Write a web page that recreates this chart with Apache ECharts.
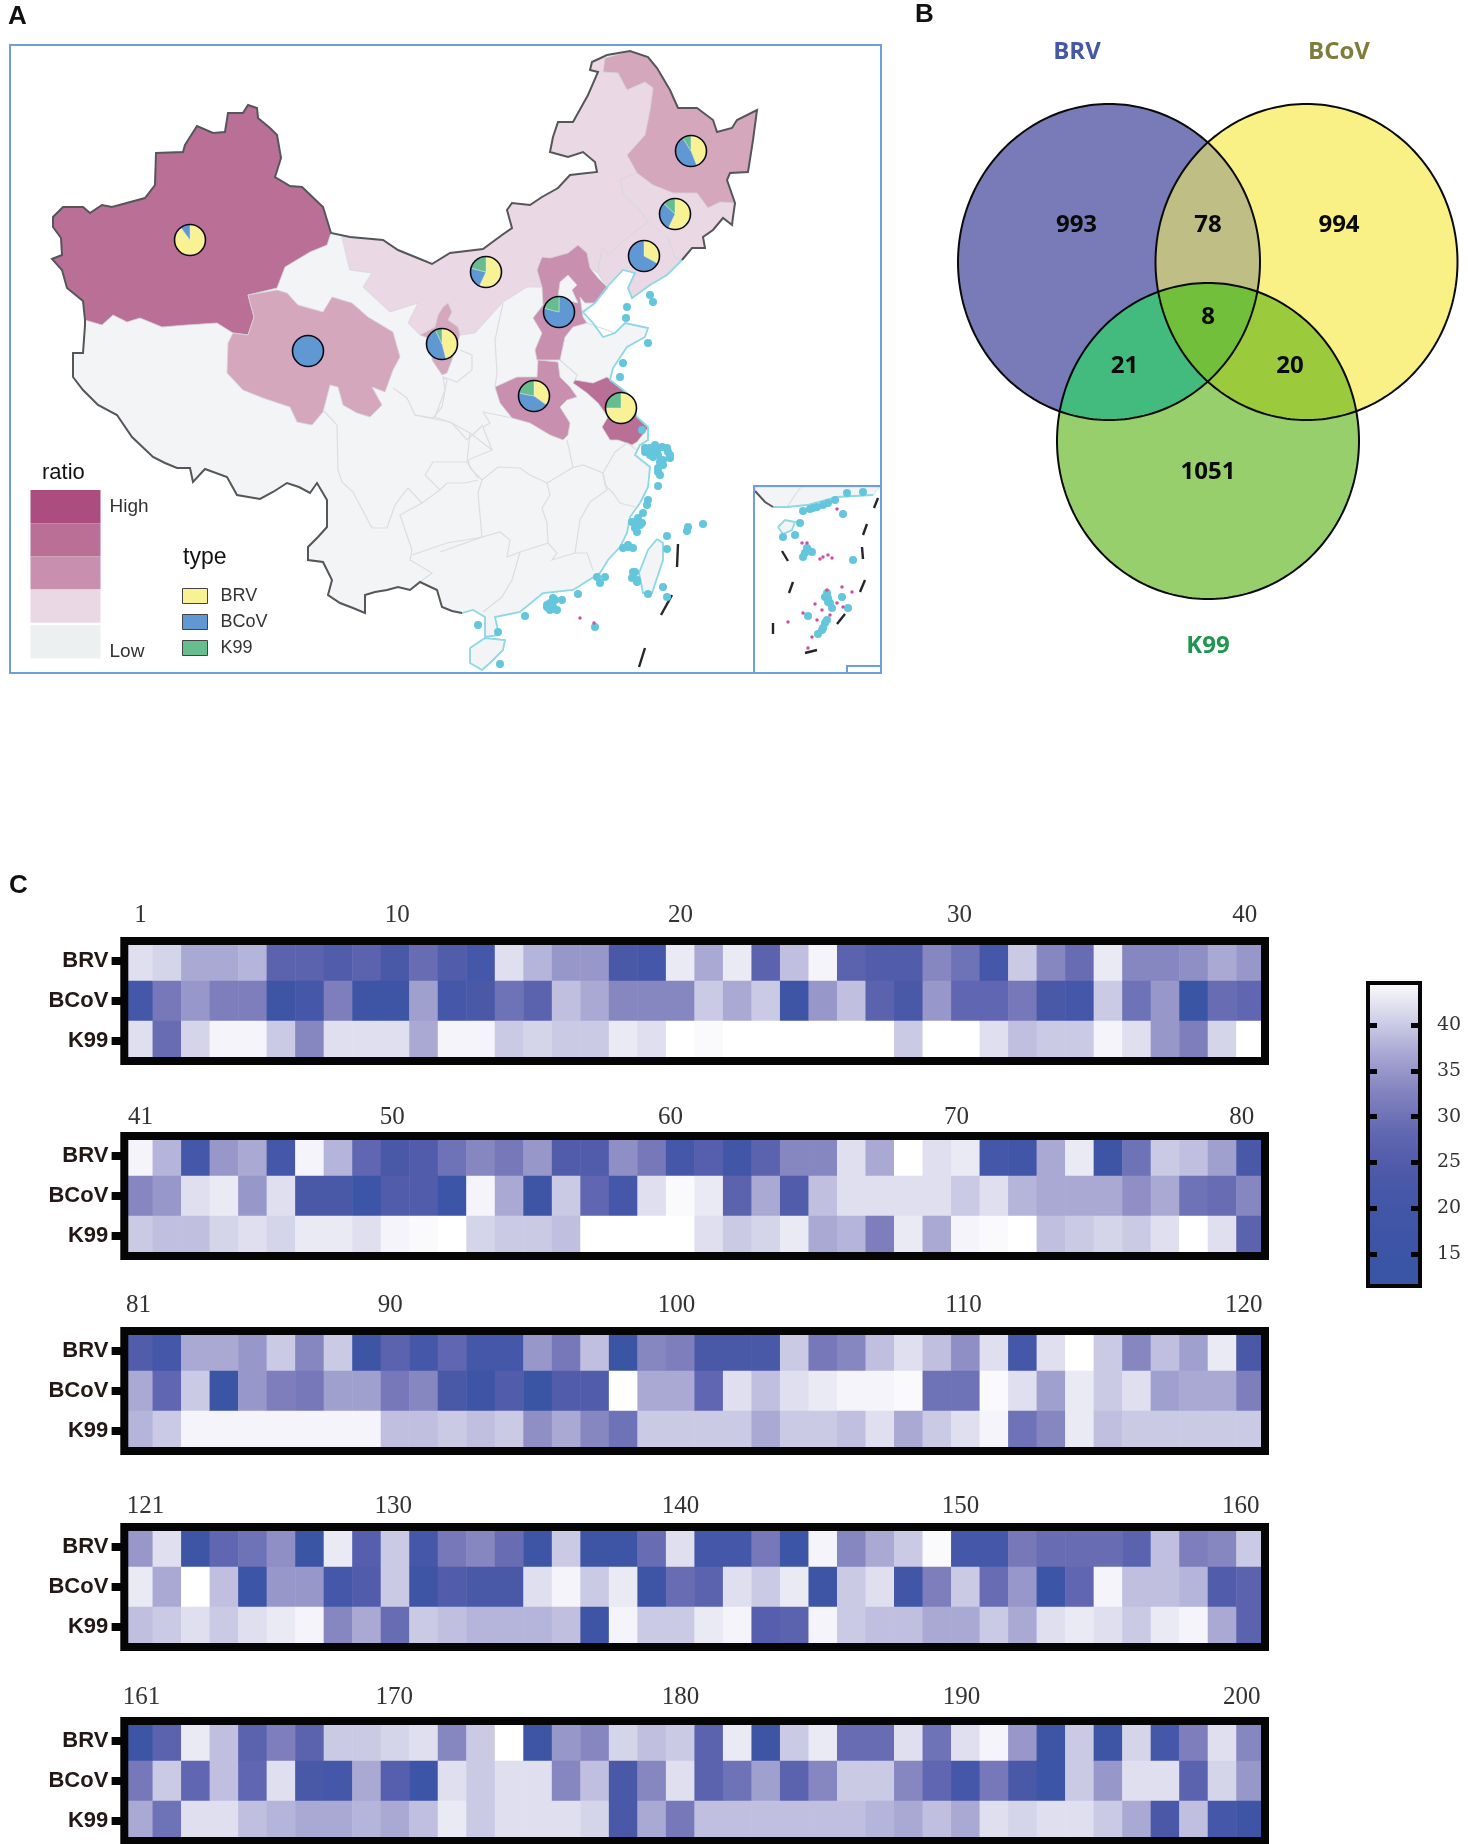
<!DOCTYPE html>
<html>
<head>
<meta charset="utf-8">
<title>BRV BCoV K99</title>
<style>html,body{margin:0;padding:0;background:#fff}#main{width:1468px;height:1844px}</style>
<script src="https://cdn.jsdelivr.net/npm/echarts@6/dist/echarts.min.js"></script>
</head>
<body>
<div id="main"></div>
<script>
// panel C: value of each sample
var brvValues = [
  42,41,37,37,38,27,27,25,27,23,29,25,21,42,38,35,35,23,21,43,37,43,27,39,44,27,25,25,33,30,21,40,33,29,43,33,33,34,37,35,
  44,38,21,35,37,21,44,38,28,23,25,30,33,31,35,25,25,34,31,21,26,19,27,33,33,42,37,45,42,43,21,19,37,43,17,30,40,39,36,23,
  25,21,37,37,35,40,33,40,17,27,21,28,21,21,35,31,39,13,33,32,23,23,23,40,31,33,39,42,39,34,42,21,42,45,40,33,39,36,43,23,
  35,42,17,28,30,34,13,43,26,40,21,31,33,29,17,40,17,17,29,42,21,21,31,15,44,33,37,40,44.5,21,21,31,29,29,29,27,39,32,33,40,
  17,27,43,39,27,32,27,40,40,41,42,33,40,45,17,35,33,41,39,40,27,43,17,40,43,29,29,42,30,42,44,35,17,40,17,41,21,32,42,33
];
var bcovValues = [
  21,31,35,32,32,17,21,32,17,17,36,21,23,30,27,39,37,33,33,33,40,37,40,17,35,39,27,23,35,28,28,31,23,21,40,30,35,13,29,28,
  33,35,42,43,35,42,23,23,15,25,25,15,44,37,17,40,28,21,42,44.5,43,27,37,25,39,42,42,42,42,40,42,38,37,37,37,34,37,30,29,33,
  37,28,40,13,35,32,31,36,36,31,33,23,17,25,13,25,25,45,37,37,28,42,39,42,43,44,44,44.5,30,30,44.5,42,36,43,40,42,36,37,37,32,
  43,37,45,39,15,35,35,21,25,40,17,25,23,23,42,44,40,43,17,29,27,42,40,43,17,40,42,19,32,40,29,35,15,28,44,39,39,38,25,27,
  31,40,28,39,28,42,23,21,37,26,15,42,40,42,42,33,39,23,33,42,27,30,36,27,33,40,40,33,28,21,31,23,15,40,35,42,42,27,41,35
];
var k99Values = [
  42,29,41,44,44,40,33,42,42,42,37,44,44,40,41,40,40,43,42,45,44.5,45,45,45,45,45,45,40,45,45,42,39,40,40,44,42,35,32,41,45,
  40,39,39,41,42,41,43,43,42,44,44.5,45,41,40,40,39,45,45,45,45,42,40,41,43,37,38,32,43,37,44,44.5,45,39,40,41,40,42,45,42,27,
  38,40,44,44,44,44,44,44,44,39,39,40,39,40,34,37,33,30,40,40,40,40,37,40,40,39,42,37,40,42,44,30,33,43,39,40,40,40,40,40,
  39,40,42,40,42,43,44,33,37,29,40,39,38,38,38,39,17,44,40,40,43,44,26,27,44,40,39,39,37,37,40,37,42,43,42,40,43,44,37,27,
  37,30,42,42,39,38,37,37,38,37,39,43,40,42,42,42,41,23,37,31,39,39,39,39,39,39,38,37,39,37,42,41,42,42,40,37,23,39,21,17
];
var heatRows = ['BRV', 'BCoV', 'K99'];
var scaleTicks = [15, 20, 25, 30, 35, 40];

// panel B
var vennNames = ['BRV', 'BCoV', 'K99'];
var vennCounts = [993, 78, 994, 21, 8, 20, 1051];

// panel A
var provinces = ['Xinjiang', 'Qinghai', 'Inner Mongolia', 'Ningxia', 'Hebei', 'Henan', 'Jiangsu', 'Liaoning', 'Jilin', 'Heilongjiang'];
var ratioLevels = [4, 2.5, 2, 2.5, 3, 3, 4, 2, 2, 2.5];
var brvShares = [90, 0, 57, 46, 0, 35, 75, 33, 57, 44];
var bcovShares = [10, 100, 22, 47, 79, 43, 0, 67, 30, 47];
var k99Shares = [0, 0, 21, 7, 21, 22, 25, 0, 13, 9];
var typeNames = ['BRV', 'BCoV', 'K99'];
var typeColors = ['#f8f295', '#5f98d2', '#67bd8e'];

// map outlines, in map units
var siteCenters = {
  'Xinjiang': [190, 240], 'Qinghai': [308, 351], 'Inner Mongolia': [486, 272], 'Ningxia': [442, 344], 'Hebei': [559, 312],
  'Henan': [534, 396], 'Jiangsu': [621, 408], 'Liaoning': [644, 256], 'Jilin': [675, 214], 'Heilongjiang': [691, 151]
};
var landBorder = [[462,613],[452,611],[442,607],[437,590],[420,582],[410,590],[398,587],[387,590],[375,592],[365,595],[365,613],[353,608],[340,603],[328,595],[332,580],[323,562],[308,560],[308,547],[318,537],[327,527],[327,500],[317,483],[310,493],[299,487],[287,483],[273,492],[260,499],[237,495],[227,477],[205,469],[193,482],[190,468],[177,468],[165,463],[153,457],[132,437],[117,415],[98,405],[83,390],[73,377],[73,353],[83,353],[85,325],[85,320],[83,301],[67,288],[62,270],[52,259],[62,255],[61,238],[53,227],[53,217],[63,207],[83,207],[90,213],[102,205],[112,207],[145,198],[155,185],[156,153],[183,152],[185,145],[197,126],[213,133],[225,132],[228,113],[243,113],[248,105],[257,108],[258,118],[270,128],[277,135],[281,158],[275,177],[290,186],[302,187],[323,207],[331,233],[350,237],[383,240],[398,250],[420,259],[432,264],[450,253],[483,249],[502,235],[512,228],[507,210],[512,203],[530,205],[542,197],[558,188],[570,175],[597,172],[595,162],[583,152],[568,157],[550,152],[553,137],[558,122],[573,122],[588,95],[598,72],[590,70],[592,62],[607,55],[630,51],[648,57],[657,68],[670,90],[678,108],[697,108],[713,120],[717,132],[732,128],[737,120],[757,110],[753,140],[748,172],[730,173],[727,180],[735,203],[733,217],[732,225],[723,218],[713,230],[703,237],[705,248],[692,248],[682,260]];
var coastLine = [[682,260],[667,275],[650,285],[632,298],[628,288],[635,273],[623,270],[607,287],[595,303],[583,312],[593,323],[603,337],[615,333],[625,323],[648,328],[645,337],[627,347],[613,368],[610,380],[627,393],[637,417],[648,427],[648,440],[640,445],[635,455],[650,467],[648,487],[640,503],[630,517],[627,533],[620,547],[608,560],[600,573],[573,590],[543,593],[520,612],[495,617],[499,635],[485,637],[485,617],[473,610],[462,613]];
var hainan = [[470,648],[485,638],[505,640],[503,650],[490,663],[482,670],[470,663]];
var taiwan = [[657,539],[663,543],[663,560],[652,593],[643,593],[639,573],[648,550]];
var insetLand = [[755,487],[880,487],[873,495],[837,497],[807,505],[787,507],[773,507],[765,502],[757,493]];
var insetCoast = [[873,495],[837,497],[807,505],[787,507],[773,507]];
var insetBorder = [[755,491],[765,502],[773,507]];
var insetHainan = [[778,527],[785,520],[795,522],[792,530],[783,534]];

var outlines = {
  'Xinjiang': [[248,105],[257,108],[258,118],[270,128],[277,135],[281,158],[275,177],[290,186],[302,187],[323,207],[331,233],[327,245],[310,252],[285,267],[277,288],[248,295],[254,317],[248,335],[233,333],[217,323],[187,325],[162,327],[140,318],[127,322],[113,315],[102,325],[85,320],[83,301],[67,288],[62,270],[52,259],[62,255],[61,238],[53,227],[53,217],[63,207],[83,207],[90,213],[102,205],[112,207],[145,198],[155,185],[156,153],[183,152],[185,145],[197,126],[213,133],[225,132],[228,113],[243,113]],
  'Qinghai': [[248,295],[277,290],[287,293],[298,305],[323,312],[332,297],[352,303],[368,317],[393,332],[400,357],[393,370],[385,392],[372,387],[382,405],[370,417],[357,413],[343,405],[338,387],[330,385],[323,412],[312,425],[297,422],[290,407],[263,398],[243,390],[227,373],[228,343],[233,333],[248,335],[254,317]],
  'Inner Mongolia': [[342,237],[350,237],[383,240],[398,250],[420,259],[432,264],[450,253],[483,249],[502,235],[512,228],[507,210],[512,203],[530,205],[542,197],[558,188],[570,175],[597,172],[595,162],[583,152],[568,157],[550,152],[553,137],[558,122],[573,122],[588,95],[598,72],[590,70],[592,62],[605,58],[603,72],[618,73],[627,90],[645,82],[653,88],[650,110],[645,135],[627,155],[637,173],[620,180],[623,193],[640,210],[648,222],[633,233],[608,255],[602,247],[598,273],[590,268],[587,253],[578,245],[568,253],[550,258],[542,257],[537,270],[542,287],[527,287],[503,302],[475,333],[460,335],[458,327],[448,320],[452,312],[448,303],[443,307],[438,315],[435,327],[420,335],[408,323],[418,303],[390,312],[363,287],[372,273],[350,270]],
  'Ningxia': [[448,303],[452,312],[448,320],[458,327],[460,335],[452,360],[447,373],[442,375],[432,360],[433,340],[420,335],[435,327],[438,315],[443,307]],
  'Hebei': [[537,270],[542,257],[550,258],[568,253],[578,245],[587,253],[590,268],[598,278],[608,288],[595,303],[585,303],[580,297],[583,317],[587,323],[573,327],[565,337],[560,360],[537,360],[535,350],[542,333],[533,318],[543,305],[542,287]],
  'Beijing': [[558,297],[560,282],[568,275],[577,285],[572,290],[578,303],[565,300]],
  'Henan': [[538,360],[558,362],[560,377],[570,387],[577,397],[567,400],[560,407],[570,423],[568,435],[563,440],[550,435],[530,423],[512,418],[500,403],[495,387],[517,377],[537,377]],
  'Jiangsu': [[575,380],[593,383],[607,377],[620,387],[630,395],[637,417],[648,428],[637,442],[632,445],[618,440],[610,440],[602,427],[608,417],[598,403],[587,393],[573,383]],
  'Liaoning': [[648,222],[668,237],[675,258],[682,260],[667,275],[650,285],[632,298],[628,288],[635,273],[623,270],[607,287],[598,273],[602,247],[608,255],[633,233]],
  'Jilin': [[620,180],[637,173],[653,185],[673,193],[697,193],[708,208],[720,202],[735,203],[733,217],[732,225],[723,218],[713,230],[703,237],[705,248],[692,248],[682,260],[675,258],[668,237],[648,222],[640,210],[623,193]],
  'Heilongjiang': [[605,58],[630,51],[648,57],[657,68],[670,90],[678,108],[697,108],[713,120],[717,132],[732,128],[737,120],[757,110],[753,140],[748,172],[730,173],[727,180],[735,203],[720,202],[708,208],[697,193],[673,193],[653,185],[637,173],[627,155],[645,135],[650,110],[653,88],[645,82],[627,90],[618,73],[603,72]]
};
var provinceLines = [
  [[323,410],[337,425],[338,470],[342,482],[353,492],[372,528],[387,528],[395,505],[408,488],[422,503],[400,515],[412,550],[410,560],[432,573],[420,582]],
  [[412,555],[447,543],[483,537]],
  [[425,475],[433,462],[467,462],[470,433],[450,422],[415,415],[407,398],[393,388]],
  [[415,415],[433,418],[442,407],[447,380],[443,377],[445,390],[435,417],[452,423],[467,440],[483,425]],
  [[443,377],[457,382],[472,370],[472,355],[460,350]],
  [[503,303],[495,340],[497,373],[495,387]],
  [[483,412],[490,423],[483,427],[492,450],[468,460],[470,468],[482,480],[478,493],[482,537],[440,552]],
  [[483,412],[512,418]],
  [[425,475],[440,490],[447,483],[465,483],[478,480]],
  [[467,462],[478,478]],[[470,433],[492,450]],[[422,503],[440,490]],
  [[482,480],[498,467],[520,468],[530,475],[547,483],[550,495],[542,508],[547,523],[548,543],[520,552],[507,557],[510,540],[500,532],[482,537]],
  [[547,483],[572,468],[583,465],[603,473],[607,490],[590,502],[580,520],[575,553],[587,553],[593,570]],
  [[603,473],[605,485],[613,493],[620,503],[635,507]],
  [[603,473],[615,452],[627,443],[637,450]],
  [[567,440],[573,467]],[[575,553],[552,560],[557,553],[548,543]],
  [[520,552],[512,580],[502,597],[483,612]],
  [[560,360],[577,375],[575,380]],[[587,323],[615,333]],
  [[342,237],[350,270]],[[598,273],[607,287]],[[668,237],[648,222]],
  [[801,487],[795,495],[787,507]]
];
var islandDots = [[645,452],[650,448],[657,450],[667,448],[670,455],[653,457],[660,462],[663,460],[658,468],[660,475],[658,486],[648,500],[647,505],[643,513],[638,518],[640,525],[637,532],[628,547],[623,548],[667,536],[667,549],[688,527],[687,531],[703,524],[633,572],[632,578],[637,580],[663,587],[667,597],[648,594],[605,577],[600,583],[597,577],[578,594],[562,600],[553,598],[547,605],[553,609],[525,616],[478,625],[500,664],[498,632],[595,627],[650,295],[653,302],[627,307],[626,318],[648,343],[623,363],[620,377],[642,430],[645,448],[650,455],[655,445],[662,447],[668,452],[670,458],[663,465],[658,472],[653,452],[658,455],[637,523],[642,523],[635,528],[632,522],[628,545],[633,548],[550,603],[555,600],[547,607],[553,607],[557,610],[550,610],[633,577],[637,582],[635,572],[847,493],[863,492],[835,500],[823,505],[813,508],[803,511],[843,514],[800,523],[783,537],[795,535],[808,550],[803,557],[812,552],[853,560],[827,593],[828,602],[842,597],[848,608],[808,616],[825,623],[822,630],[818,634],[810,509],[817,507],[828,503],[805,553],[807,548],[828,598],[830,603],[825,597],[832,608],[827,620],[823,628]];
var reefDots = [[580,618],[594,623],[837,509],[802,543],[807,543],[827,590],[842,587],[852,592],[815,604],[803,613],[788,622],[817,620],[822,610],[837,603],[843,607],[830,615],[812,637],[808,648],[823,557],[828,555],[832,558],[820,559]];
var dashLines = [[[678,544],[677,567]],[[672,595],[661,615]],[[645,648],[639,667]],[[878,498],[874,508]],[[867,524],[863,535]],[[862,547],[863,559]],[[865,580],[860,592]],[[782,551],[788,561]],[[793,582],[789,593]],[[773,623],[773,634]],[[845,614],[837,624]],[[817,650],[805,653]]];

function feature(name, rings) {
  return {
    type: 'Feature',
    properties: { name: name },
    geometry: { type: 'MultiPolygon', coordinates: rings.map(function (r) { return [r.concat([r[0]])]; }) }
  };
}
var features = [feature('China', [landBorder.concat(coastLine.slice(1)), hainan, taiwan, insetLand, insetHainan])];
Object.keys(outlines).forEach(function (name) { features.push(feature(name, [outlines[name]])); });
echarts.registerMap('chinaTrace', { type: 'FeatureCollection', features: features });

function closed(r) { return r.concat([r[0]]); }
function lineSeries(paths, color, width) {
  return {
    type: 'lines', coordinateSystem: 'geo', geoIndex: 0, polyline: true, silent: true, z: 4,
    lineStyle: { color: color, width: width, opacity: 1 },
    data: paths.map(function (p) { return { coords: p }; })
  };
}

var panelTops = [941, 1136, 1331, 1527, 1721];
var labelMargins = [13, 6, 13, 8, 11];
// the sample numbers are hand placed in the figure, not quite over their cells
var labelShifts = [
  [2, 2, 0, -6, -6],
  [2, -3, -10, -9, -9],
  [0, -5, -4, -2, -7],
  [7, -2, 0, -5, -10],
  [3, -1, 0, -4, -9]
];
var perPanel = 40;
var grids = [], xAxes = [], yAxes = [], series = [], frames = [];

panelTops.forEach(function (top, p) {
  var first = p * perPanel;
  var ids = [];
  var cells = [];
  for (var i = 0; i < perPanel; i++) {
    ids.push(String(first + i + 1));
    cells.push([i, 0, brvValues[first + i]]);
    cells.push([i, 1, bcovValues[first + i]]);
    cells.push([i, 2, k99Values[first + i]]);
  }
  var rich = {};
  labelShifts[p].forEach(function (d, k) {
    rich['n' + k] = {
      fontFamily: 'Liberation Serif', fontSize: 25, color: '#333',
      padding: d < 0 ? [0, -2 * d, 0, 0] : [0, 0, 0, 2 * d]
    };
  });
  grids.push({ left: 124.3, top: top, width: 1140.7, height: 120 });
  xAxes.push({
    type: 'category', gridIndex: p, position: 'top', data: ids,
    axisLine: { show: false }, axisTick: { show: false }, splitLine: { show: false },
    axisLabel: {
      margin: labelMargins[p], hideOverlap: false, rich: rich,
      interval: function (idx) { return idx === 0 || (idx + 1) % 10 === 0; },
      formatter: function (value, idx) { return '{n' + Math.round((idx + 1) / 10) + '|' + value + '}'; }
    }
  });
  yAxes.push({
    type: 'category', gridIndex: p, data: heatRows, inverse: true,
    axisLine: { show: false }, splitLine: { show: false },
    axisTick: { show: true, length: 12.7, alignWithLabel: true, lineStyle: { color: '#050505', width: 8 } },
    axisLabel: { margin: 16, color: '#231815', fontFamily: 'Liberation Sans', fontWeight: 'bold', fontSize: 22 }
  });
  series.push({ type: 'heatmap', xAxisIndex: p, yAxisIndex: p, data: cells, silent: true, itemStyle: { borderWidth: 0 }, progressive: 0 });
  frames.push({ type: 'rect', z: 50, silent: true, shape: { x: 124.3, y: top, width: 1140.7, height: 120 }, style: { fill: 'none', stroke: '#050505', lineWidth: 8 } });
});

// colour scale axis, it sits over the visualMap bar
var scaleGrid = grids.length;
grids.push({ left: 1368, top: 979.2, width: 52, height: 306.8 });
xAxes.push({ type: 'value', gridIndex: scaleGrid, show: false, min: 0, max: 1 });
yAxes.push({
  type: 'value', gridIndex: scaleGrid, position: 'left', min: 11.5, max: 45, z: 60,
  axisLine: { show: false }, splitLine: { show: false }, axisLabel: { show: false },
  axisTick: { show: true, inside: true, length: 9, customValues: scaleTicks, lineStyle: { color: '#050505', width: 5 } }
});
yAxes.push({
  type: 'value', gridIndex: scaleGrid, position: 'right', min: 11.5, max: 45, z: 60,
  axisLine: { show: false }, splitLine: { show: false },
  axisTick: { show: true, inside: true, length: 9, customValues: scaleTicks, lineStyle: { color: '#050505', width: 5 } },
  axisLabel: { show: true, margin: 17, customValues: scaleTicks, color: '#333', fontFamily: 'DejaVu Serif', fontSize: 19 }
});
frames.push({ type: 'rect', z: 50, silent: true, shape: { x: 1368, y: 983, width: 52, height: 303 }, style: { fill: 'none', stroke: '#050505', lineWidth: 4 } });

// venn plane, one unit is one pixel of the panel
var vennGrid = grids.length;
var vennXAxis = xAxes.length;
var vennYAxis = yAxes.length;
grids.push({ left: 900, top: 0, width: 568, height: 680 });
xAxes.push({ type: 'value', gridIndex: vennGrid, show: false, min: 900, max: 1468 });
yAxes.push({ type: 'value', gridIndex: vennGrid, show: false, min: 0, max: 680, inverse: true });

var heatCount = series.length;

// map colours go through the piecewise visualMap
series.push({
  type: 'map', geoIndex: 0, silent: true,
  data: provinces.map(function (name, i) { return { name: name, value: ratioLevels[i] }; })
});
var mapSeriesIndex = series.length - 1;

// one pie per province, empty slices left out so they draw no seam
provinces.forEach(function (name, i) {
  var shares = [brvShares[i], bcovShares[i], k99Shares[i]];
  var slices = [];
  shares.forEach(function (v, k) {
    if (v > 0) slices.push({ name: typeNames[k], value: v, itemStyle: { color: typeColors[k] } });
  });
  series.push({
    type: 'pie', coordinateSystem: 'geo', geoIndex: 0, center: siteCenters[name], radius: 15.5, z: 6,
    startAngle: 90, silent: true, label: { show: false }, labelLine: { show: false },
    itemStyle: { borderWidth: slices.length > 1 ? 0.6 : 0, borderColor: 'rgba(230,240,240,0.7)' },
    data: slices
  });
});
series.push({
  type: 'scatter', coordinateSystem: 'geo', geoIndex: 0, silent: true, z: 7, symbolSize: 31,
  itemStyle: { color: 'rgba(0,0,0,0)', borderColor: '#0a0a14', borderWidth: 1.6, opacity: 1 },
  data: provinces.map(function (name) { return siteCenters[name]; })
});
series.push(lineSeries(provinceLines, '#dcdde0', 1.2));
series.push(lineSeries([coastLine, closed(hainan), closed(taiwan), insetCoast, closed(insetHainan)], '#8ed8e6', 1.8));
series.push(lineSeries([landBorder, insetBorder], '#55565a', 2));
series.push(lineSeries(dashLines, '#26262a', 2.4));
series.push({
  type: 'scatter', coordinateSystem: 'geo', geoIndex: 0, silent: true, z: 5, symbolSize: 8,
  itemStyle: { color: '#63c6dc', opacity: 1 }, data: islandDots
});
series.push({
  type: 'scatter', coordinateSystem: 'geo', geoIndex: 0, silent: true, z: 5, symbolSize: 3.5,
  itemStyle: { color: '#cb4fa2', opacity: 1 }, data: reefDots
});

// venn: the sets are ellipses in the picture, each region cut out as a polygon
var vennSets = [
  { centre: [1109, 262], radius: [151, 158] },
  { centre: [1306.5, 262], radius: [151, 158] },
  { centre: [1208, 441], radius: [151, 158] }
];
var vennLayers = [
  { sets: [0], color: '#797bb9' }, { sets: [1], color: '#f9f185' }, { sets: [2], color: '#98cf6d' },
  { sets: [0, 1], color: '#bfbe85' }, { sets: [0, 2], color: '#43bb7f' }, { sets: [1, 2], color: '#9bcb3c' },
  { sets: [0, 1, 2], color: '#72bf3b' }
];
function ellipsePoints(s) {
  var pts = [];
  for (var a = 0; a < 240; a++) {
    var t = a / 240 * Math.PI * 2;
    pts.push([s.centre[0] + s.radius[0] * Math.cos(t), s.centre[1] + s.radius[1] * Math.sin(t)]);
  }
  return pts;
}
// convex clip, edge by edge
function clipPolygon(poly, clip) {
  var out = poly;
  for (var e = 0; e < clip.length; e++) {
    var a = clip[e], b = clip[(e + 1) % clip.length];
    var side = function (p) { return (b[0] - a[0]) * (p[1] - a[1]) - (b[1] - a[1]) * (p[0] - a[0]); };
    var next = [];
    for (var i = 0; i < out.length; i++) {
      var p = out[i], q = out[(i + 1) % out.length];
      var sp = side(p), sq = side(q);
      if (sp >= 0) next.push(p);
      if ((sp >= 0) !== (sq >= 0)) {
        var t = sp / (sp - sq);
        next.push([p[0] + (q[0] - p[0]) * t, p[1] + (q[1] - p[1]) * t]);
      }
    }
    out = next;
  }
  return out;
}
series.push({
  type: 'custom', xAxisIndex: vennXAxis, yAxisIndex: vennYAxis, silent: true, z: 3, clip: false,
  data: vennLayers.map(function (l, i) { return [i]; }),
  renderItem: function (params, api) {
    var layer = vennLayers[params.dataIndex];
    var poly = ellipsePoints(vennSets[layer.sets[0]]);
    layer.sets.slice(1).forEach(function (s) { poly = clipPolygon(poly, ellipsePoints(vennSets[s])); });
    return { type: 'polygon', shape: { points: poly.map(function (p) { return api.coord(p); }) }, style: { fill: layer.color } };
  }
});
series.push({
  type: 'custom', xAxisIndex: vennXAxis, yAxisIndex: vennYAxis, silent: true, z: 4, clip: false,
  data: vennSets.map(function (s, i) { return [i]; }),
  renderItem: function (params, api) {
    var poly = ellipsePoints(vennSets[params.dataIndex]);
    return { type: 'polygon', shape: { points: poly.map(function (p) { return api.coord(p); }) }, style: { fill: 'none', stroke: '#0a0a0a', lineWidth: 2 } };
  }
});
var vennSpots = [[1076.5, 225], [1208, 225], [1339, 225], [1124.5, 366], [1208, 317], [1290, 366], [1208, 472.5]];
series.push({
  type: 'scatter', xAxisIndex: vennXAxis, yAxisIndex: vennYAxis, silent: true, z: 5, symbolSize: 0,
  itemStyle: { opacity: 1 },
  label: { show: true, position: 'inside', color: '#0a0a0a', fontFamily: 'Open Sans', fontWeight: 'bold', fontSize: 24, formatter: function (p) { return p.value[2]; } },
  data: vennCounts.map(function (c, i) { return [vennSpots[i][0], vennSpots[i][1], c]; })
});
var vennNameSpots = [[1077, 52], [1339, 52], [1208, 646.5]];
var vennNameColors = ['#4458a5', '#7f7d3c', '#1e9650'];
series.push({
  type: 'scatter', xAxisIndex: vennXAxis, yAxisIndex: vennYAxis, silent: true, z: 5, symbolSize: 0,
  itemStyle: { opacity: 1 },
  data: vennNames.map(function (n, i) {
    return {
      value: vennNameSpots[i],
      label: { show: true, position: 'inside', formatter: n, color: vennNameColors[i], fontFamily: 'Open Sans', fontWeight: 'bold', fontSize: 24 }
    };
  })
});

function panelText(text, x, y, size, weight) {
  return {
    type: 'text', z: 50, silent: true, x: x, y: y,
    style: { text: text, fill: '#111', fontFamily: 'Liberation Sans', fontSize: size, fontWeight: weight || 'normal', textVerticalAlign: 'middle' }
  };
}
function frameRect(x, y, w, h) {
  return { type: 'rect', z: 50, silent: true, shape: { x: x, y: y, width: w, height: h }, style: { fill: 'none', stroke: '#6f9edb', lineWidth: 2 } };
}

var myChart = echarts.init(document.getElementById('main'), null, { renderer: 'canvas' });
myChart.setOption({
  animation: false,
  backgroundColor: '#fff',
  grid: grids,
  xAxis: xAxes,
  yAxis: yAxes,
  geo: {
    map: 'chinaTrace', silent: true, roam: false, aspectScale: 1,
    projection: { project: function (p) { return p; }, unproject: function (p) { return p; } },
    boundingCoords: [[10, 45], [881, 673]],
    left: 10, top: 45, width: 871, height: 628,
    label: { show: false },
    itemStyle: { areaColor: '#f2f4f6', borderColor: '#d5d6d9', borderWidth: 0.8 },
    emphasis: { disabled: true }
  },
  legend: {
    orient: 'vertical', left: 182, top: 587, padding: 0, itemWidth: 25, itemHeight: 15, itemGap: 8, icon: 'rect',
    data: typeNames, selectedMode: false,
    itemStyle: { borderColor: '#444', borderWidth: 1 },
    textStyle: { color: '#333', fontFamily: 'Liberation Sans', fontSize: 18, padding: [0, 0, 0, 8] }
  },
  visualMap: [
    {
      type: 'continuous', seriesIndex: series.map(function (s, i) { return i; }).slice(0, heatCount),
      min: 11.5, max: 45, left: 1370, top: 979.2, itemWidth: 48, itemHeight: 306.8, padding: 0,
      calculable: false, text: null, showLabel: false, hoverLink: false,
      inRange: { color: ['#3a55a5', '#3c55a6', '#4256a7', '#4d59a9', '#6167b1', '#8181be', '#a6a5d2', '#d3d3e9', '#ffffff'] },
      textStyle: { fontSize: 0 }
    },
    {
      type: 'piecewise', seriesIndex: mapSeriesIndex, left: 30.5, top: 490, padding: 0,
      itemWidth: 70, itemHeight: 33.2, itemGap: 0, itemSymbol: 'rect', textGap: 9, hoverLink: false, selectedMode: false,
      textStyle: { color: '#333', fontFamily: 'Liberation Sans', fontSize: 19 },
      outOfRange: { color: '#d5a7bd' },
      pieces: [
        { value: 1, label: '\nLow', color: '#edf0f1' },
        { value: 2, label: ' ', color: '#ead9e5' },
        { value: 3, label: ' ', color: '#c98fae' },
        { value: 4, label: ' ', color: '#ba6f97' },
        { value: 5, label: 'High', color: '#ab4d7e' }
      ]
    }
  ],
  graphic: { elements: frames.concat([
    frameRect(10, 45, 871, 628),
    frameRect(754, 486, 127, 187),
    frameRect(847, 666, 34, 7),
    panelText('A', 8, 17, 26, 'bold'),
    panelText('B', 915, 15, 26, 'bold'),
    panelText('C', 9, 886, 26, 'bold'),
    panelText('ratio', 42, 473, 22),
    panelText('type', 183, 558, 23)
  ]) },
  series: series
});
</script>
</body>
</html>
